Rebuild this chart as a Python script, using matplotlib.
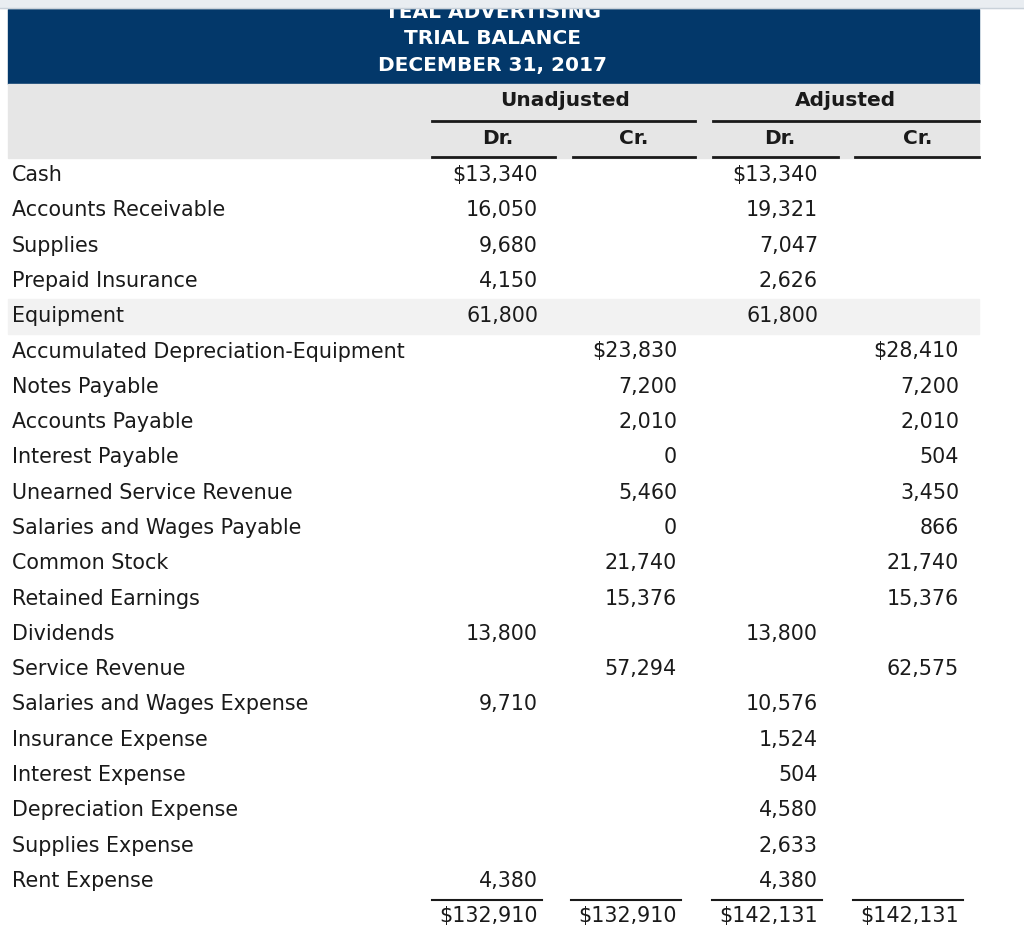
import matplotlib.pyplot as plt
from matplotlib.patches import Rectangle

# trial balance data
title_lines = ["TEAL ADVERTISING", "TRIAL BALANCE", "DECEMBER 31, 2017"]
groups = ["Unadjusted", "Adjusted"]
sides = ["Dr.", "Cr.", "Dr.", "Cr."]

accounts = [
    "Cash", "Accounts Receivable", "Supplies", "Prepaid Insurance", "Equipment",
    "Accumulated Depreciation-Equipment", "Notes Payable", "Accounts Payable",
    "Interest Payable", "Unearned Service Revenue", "Salaries and Wages Payable",
    "Common Stock", "Retained Earnings", "Dividends", "Service Revenue",
    "Salaries and Wages Expense", "Insurance Expense", "Interest Expense",
    "Depreciation Expense", "Supplies Expense", "Rent Expense",
]
unadj_dr = [13340, 16050, 9680, 4150, 61800, None, None, None, None, None, None,
            None, None, 13800, None, 9710, None, None, None, None, 4380]
unadj_cr = [None, None, None, None, None, 23830, 7200, 2010, 0, 5460, 0,
            21740, 15376, None, 57294, None, None, None, None, None, None]
adj_dr = [13340, 19321, 7047, 2626, 61800, None, None, None, None, None, None,
          None, None, 13800, None, 10576, 1524, 504, 4580, 2633, 4380]
adj_cr = [None, None, None, None, None, 28410, 7200, 2010, 504, 3450, 866,
          21740, 15376, None, 62575, None, None, None, None, None, None]
highlight_row = "Equipment"

NAVY = "#03386a"
TXT = "#1a1a1a"
W, H = 1024, 938
FS = 14.9

fig = plt.figure(figsize=(W / 100, H / 100), dpi=100)
ax = fig.add_axes([0, 0, 1, 1])
ax.set_xlim(0, W)
ax.set_ylim(H, 0)
ax.axis("off")

left, right = 8, 979

# title block
ax.add_patch(Rectangle((left, 9), right - left, 75, color=NAVY, zorder=1))
for i, t in enumerate(title_lines):
    ax.text(493, 13 + i * 26, t, color="white", fontsize=14.5, fontweight="bold",
            ha="center", va="center", zorder=2)
# browser strip covering the top of the first title line
ax.add_patch(Rectangle((0, 0), W, 8, color="#e9edf1", zorder=5))
ax.plot([0, W], [8, 8], color="#c9d1d9", lw=1, zorder=6)

# column header band
ax.add_patch(Rectangle((left, 84), right - left, 74, color="#e6e6e6", zorder=1))
group_x = [565, 845]
group_span = [(432, 695), (713, 979)]
for g, gx, (a, b) in zip(groups, group_x, group_span):
    ax.text(gx, 100, g, fontsize=14.5, fontweight="bold", color=TXT,
            ha="center", va="center", zorder=2)
    ax.plot([a, b], [121, 121], color=TXT, lw=2, zorder=2)

col_right = [538, 677, 818, 959]
col_span = [(432, 555), (573, 695), (713, 838), (855, 979)]
side_x = [498, 634, 780, 918]
for s, sx, (a, b) in zip(sides, side_x, col_span):
    ax.text(sx, 139, s, fontsize=14.5, fontweight="bold", color=TXT,
            ha="center", va="center", zorder=2)
    ax.plot([a, b], [157, 157], color=TXT, lw=2, zorder=2)

# body rows
y0, dy = 175, 35.3
columns = [unadj_dr, unadj_cr, adj_dr, adj_cr]
for i, name in enumerate(accounts):
    y = y0 + i * dy
    if name == highlight_row:
        ax.add_patch(Rectangle((left, y - dy / 2), right - left, dy,
                               color="#f2f2f2", zorder=0))
    ax.text(12, y, name, fontsize=FS, color=TXT, ha="left", va="center")

for col, xr in zip(columns, col_right):
    first = True
    for i, v in enumerate(col):
        if v is None:
            continue
        s = f"{v:,}"
        if first:
            s = "$" + s
            first = False
        ax.text(xr, y0 + i * dy, s, fontsize=FS, color=TXT,
                ha="right", va="center")

# totals
y_tot = y0 + len(accounts) * dy
for col, xr in zip(columns, col_right):
    total = sum(v for v in col if v is not None)
    ax.plot([xr - 106, xr + 4], [y_tot - 16, y_tot - 16], color=TXT, lw=1.5)
    ax.text(xr, y_tot, f"${total:,}", fontsize=FS, color=TXT,
            ha="right", va="center")

fig.savefig("out.png", dpi=100)
